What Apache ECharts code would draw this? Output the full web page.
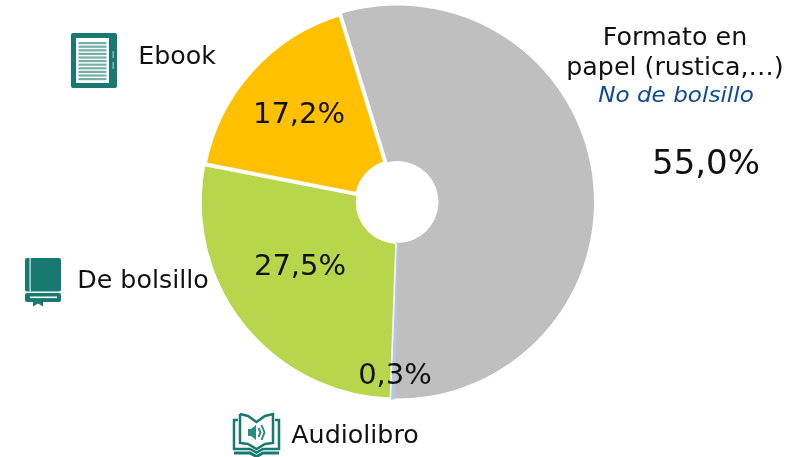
<!DOCTYPE html>
<html><head><meta charset="utf-8">
<style>html,body{margin:0;padding:0;background:#fff}#c{width:800px;height:457px}</style>
<script src="https://cdn.jsdelivr.net/npm/echarts@6/dist/echarts.min.js"></script>
</head><body><div id="c"></div>
<script>
const categories = ['Formato en papel (rustica,…)', 'Audiolibro', 'De bolsillo', 'Ebook'];
const values = [55.0, 0.3, 27.5, 17.2];
const colors = ['#bfbfbf', '#b4c7e7', '#b7d64c', '#ffc000'];
const borders = [[0,'#fff'],[2.2,'#b4c7e7'],[1.5,'#fff'],[4,'#fff']];
const labelSpots = [[706,165,34],[395,376,29],[300,267,29],[299,115,29]];
const FONT = '"DejaVu Sans", sans-serif';
const TEAL = '#17796f';

function txt(x, y, s, size, extra) {
  return Object.assign({ type:'text', x, y, scaleX:1.055, z:5,
    style:Object.assign({ text:s, fontFamily:FONT, fontSize:size, fill:'#111', align:'center', verticalAlign:'middle' }, extra||{}) });
}
function rect(x,y,w,h,fill,r){ return {type:'rect',z:4,shape:{x,y,width:w,height:h,r:r||0},style:{fill}}; }
function stroke(points,w,color){ return {type:'polyline',z:4,shape:{points},style:{fill:null,stroke:color||TEAL,lineWidth:w||2}}; }

const ebookLines = [];
for (let i=0;i<11;i++) ebookLines.push(rect(78.5,42+i*3.6,28,2.2,'#75b0a8'));

const graphics = [
  // ebook icon
  rect(71,33,46,55,TEAL,2), rect(76,38,33,45,'#fff'), ...ebookLines,
  rect(112.5,51,1.4,7,'#8fc3bc'), rect(112.5,62,1.4,7,'#8fc3bc'),
  // pocket book icon
  rect(25,258,36,33.5,TEAL,2), rect(29.5,258,1.2,33.5,'#e4f0ee'),
  rect(25,293,36,9,TEAL,2), rect(30,296.5,27,1.6,'#fff'),
  {type:'polygon',z:5,shape:{points:[[33,300],[43,300],[43,306.5],[38,303.5],[33,306.5]]},style:{fill:TEAL}},
  // audiobook icon
  stroke([[238,420],[234,420],[234,449],[250,449],[256.5,452.5],[263,449],[279,449],[279,420],[275,420]],2.5),
  stroke([[240,414],[248,416],[256.5,422],[265,416],[273,414],[273,443],[265,444],[256.5,449],[248,444],[240,443],[240,414]],2.5),
  stroke([[234,453],[250,453],[256.5,456.5],[263,453],[279,453]],3),
  {type:'polygon',z:4,shape:{points:[[248,429],[251,429],[256,425],[256,440],[251,436],[248,436]]},style:{fill:'#2d8a80'}},
  stroke([[258.5,428],[260.5,432.5],[258.5,437]],2,'#2d8a80'),
  stroke([[261.5,425],[264.5,432.5],[261.5,440]],2,'#2d8a80'),
  // category labels
  txt(177,58,'Ebook',24), txt(143,282,'De bolsillo',24), txt(355,437,'Audiolibro',24),
  txt(675,38.5,'Formato en',24), txt(675,69,'papel (rustica,…)',24),
  txt(676,97,'No de bolsillo',21,{fill:'#0e4a96',fontStyle:'italic'})
];
graphics[graphics.length-1].scaleX = 1.1;

const chart = echarts.init(document.getElementById('c'));
chart.setOption({
  animation:false,
  backgroundColor:'#fff',
  graphic:graphics,
  series:[{
    type:'pie',
    center:[397.5,202],
    radius:[41,196.5],
    startAngle:107,
    clockwise:true,
    avoidLabelOverlap:false,
    labelLine:{show:false},
    label:{show:true,position:'inside',fontFamily:FONT,color:'#111',
      formatter:p=>p.value.toFixed(1).replace('.',',')+'%'},
    labelLayout:p=>({x:labelSpots[p.dataIndex][0],y:labelSpots[p.dataIndex][1],align:'center',verticalAlign:'middle',hideOverlap:false}),
    data:categories.map((name,i)=>({
      name, value:values[i],
      itemStyle:{color:colors[i],borderWidth:borders[i][0],borderColor:borders[i][1]},
      label:{fontSize:labelSpots[i][2]}
    }))
  }]
});
</script></body></html>
